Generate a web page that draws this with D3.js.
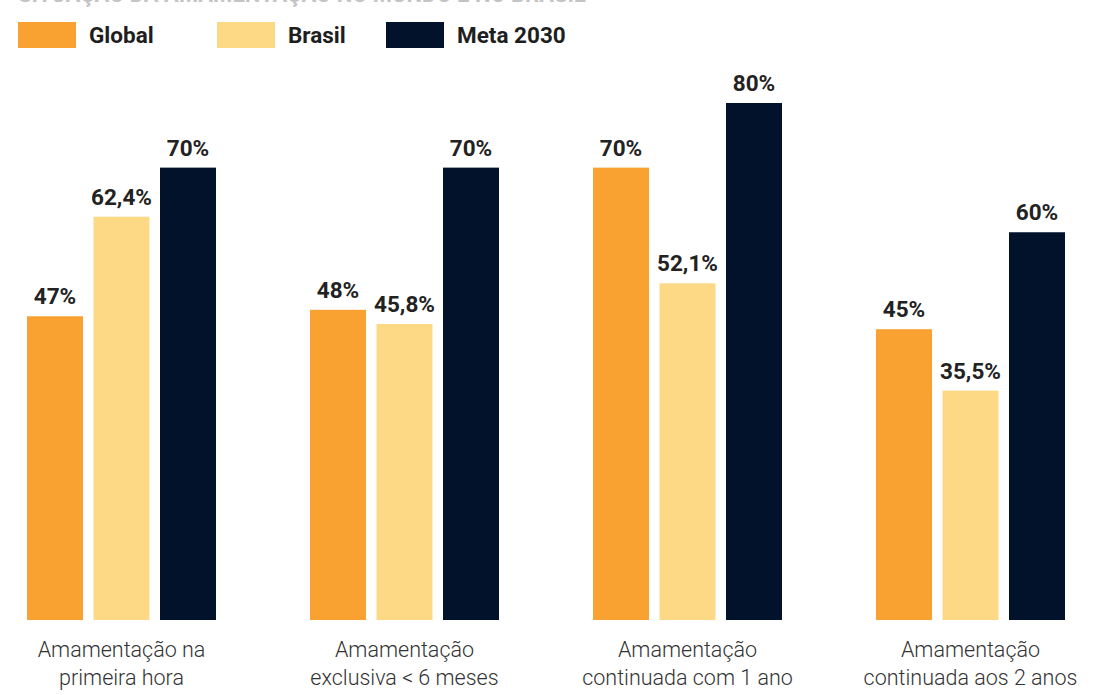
<!DOCTYPE html>
<html>
<head>
<meta charset="utf-8">
<script src="https://cdn.jsdelivr.net/npm/d3@7"></script>
<style>
  body { margin: 0; background: #fff; }
  svg { display: block; font-family: Roboto, "Noto Sans", sans-serif; }
</style>
</head>
<body>
<div id="chart"></div>
<script>
var width = 1109;
var height = 695;

// data
const categories = [
  ["Amamentação na", "primeira hora"],
  ["Amamentação", "exclusiva < 6 meses"],
  ["Amamentação", "continuada com 1 ano"],
  ["Amamentação", "continuada aos 2 anos"]
];
const seriesNames = ["Global", "Brasil", "Meta 2030"];
const globalValues = [47, 48, 70, 45];
const brasilValues = [62.4, 45.8, 52.1, 35.5];
const metaValues = [70, 70, 80, 60];
const colors = ["#F9A131", "#FDD985", "#02122B"];

const seriesValues = [globalValues, brasilValues, metaValues];

function fmt(v) {
  return (Number.isInteger(v) ? v : v.toFixed(1).replace(".", ",")) + "%";
}

function drawChart(element_id) {
  const svg = d3.select('#' + element_id).append("svg")
      .attr("width", width)
      .attr("height", height);

  // title, cut off by the top edge in the reference
  svg.append("text")
      .attr("x", 18)
      .attr("y", 2)
      .attr("font-size", 22)
      .attr("font-weight", 700)
      .attr("fill", "#c4c4c4")
      .text("SITUAÇÃO DA AMAMENTAÇÃO NO MUNDO E NO BRASIL");

  // legend
  const legendX = [18, 217, 386];
  const legend = svg.append("g").selectAll("g")
      .data(seriesNames)
      .join("g")
      .attr("transform", (d, i) => `translate(${legendX[i]},22)`);
  legend.append("rect")
      .attr("width", 58).attr("height", 26)
      .attr("fill", (d, i) => colors[i]);
  legend.append("text")
      .attr("x", 71).attr("y", 20.5)
      .attr("font-size", 22.5)
      .attr("font-weight", 700)
      .attr("fill", "#1e1e1e")
      .text(d => d);

  const groupW = 189;

  const x0 = d3.scaleBand()
      .domain(d3.range(categories.length))
      .range([-20, 1112]);

  const x1 = d3.scaleBand()
      .domain(d3.range(seriesNames.length))
      .range([0, groupW])
      .paddingInner(0.158);

  const y = d3.scaleLinear()
      .domain([0, 80])
      .range([620, 103]);

  const groups = svg.append("g").selectAll("g")
      .data(categories)
      .join("g")
      .attr("transform", (d, i) => `translate(${x0(i) + (x0.bandwidth() - groupW) / 2},0)`);

  const bars = groups.selectAll("g")
      .data((d, ci) => seriesValues.map((s, si) => ({ si: si, v: s[ci] })))
      .join("g");

  bars.append("rect")
      .attr("x", d => x1(d.si))
      .attr("y", d => y(d.v))
      .attr("width", x1.bandwidth())
      .attr("height", d => y(0) - y(d.v))
      .attr("fill", d => colors[d.si]);

  bars.append("text")
      .attr("x", d => x1(d.si) + x1.bandwidth() / 2)
      .attr("y", d => y(d.v) - 12)
      .attr("text-anchor", "middle")
      .attr("font-size", 22.5)
      .attr("font-weight", 700)
      .attr("fill", "#222")
      .text(d => fmt(d.v));

  // category labels
  const labels = svg.append("g").selectAll("text")
      .data(categories)
      .join("text")
      .attr("x", (d, i) => x0(i) + x0.bandwidth() / 2)
      .attr("y", 657)
      .attr("text-anchor", "middle")
      .attr("font-size", 21.5)
      .attr("font-weight", 300)
      .attr("fill", "#333");
  labels.selectAll("tspan")
      .data(d => d)
      .join("tspan")
      .attr("x", function () { return d3.select(this.parentNode).attr("x"); })
      .attr("dy", (d, i) => i === 0 ? 0 : 28)
      .text(d => d);

  return svg.node();
}

drawChart('chart');
</script>
</body>
</html>
